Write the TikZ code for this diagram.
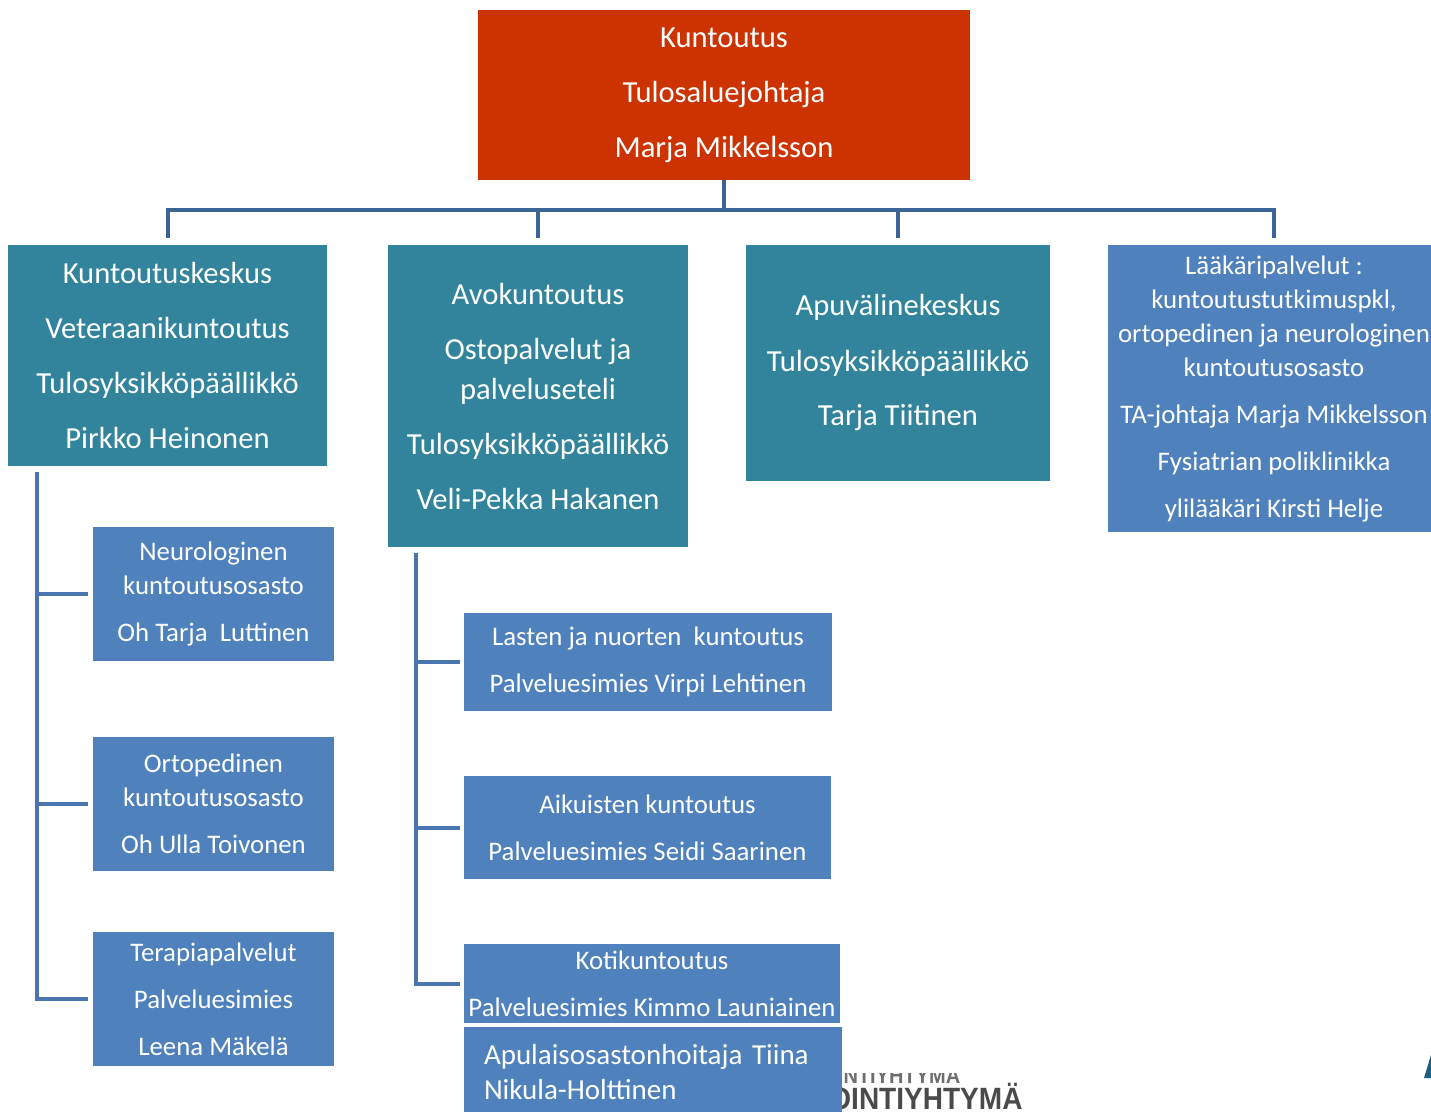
\documentclass[tikz,border=0pt]{standalone}
\usepackage{fontspec}
\setmainfont{Carlito}
\newfontfamily\logofont[FakeStretch=0.91]{Liberation Sans}
\usepackage{xcolor}
\usepackage{tikz}

\definecolor{bossred}{HTML}{CC3300}
\definecolor{unitteal}{HTML}{31849B}
\definecolor{teamblue}{HTML}{4F81BD}
\definecolor{busblue}{HTML}{3C6597}
\definecolor{linkblue}{HTML}{4A75B0}
\definecolor{logogray}{HTML}{4A4A4A}
\definecolor{logoteal}{HTML}{1B5E7E}

\begin{document}
\begin{tikzpicture}[
  x=0.5pt, y=-0.5pt,
  box/.style={inner sep=0pt, align=center, text=white},
  boss/.style={box, fill=bossred, font=\fontsize{15.3}{27.5}\selectfont},
  unit/.style={box, fill=unitteal, font=\fontsize{15.3}{27.5}\selectfont},
  team/.style={box, fill=teamblue, font=\fontsize{13.4}{17}\selectfont},
  bus/.style={draw=busblue, line width=2pt},
  link/.style={draw=linkblue, line width=2pt}
]
\useasboundingbox (0,0) rectangle (1431,1112);
\clip (0,0) rectangle (1431,1112);

% head of the unit
\node[boss, minimum width=246pt, minimum height=85pt] (boss) at (724,95)
  {Kuntoutus\\Tulosaluejohtaja\\Marja Mikkelsson};

% first level
\node[unit, minimum width=159.5pt, minimum height=110.5pt] (kk) at (167.5,355.5)
  {Kuntoutuskeskus\\Veteraanikuntoutus\\Tulosyksikköpäällikkö\\Pirkko Heinonen};
\node[unit, minimum width=150pt, minimum height=151pt] (avo) at (538,396)
  {Avokuntoutus\\Ostopalvelut ja\\[-7.5pt]palveluseteli\\Tulosyksikköpäällikkö\\Veli-Pekka Hakanen};
\node[unit, minimum width=152pt, minimum height=118pt] (apu) at (898,363)
  {Apuvälinekeskus\\Tulosyksikköpäällikkö\\Tarja Tiitinen};
\node[team, minimum width=166pt, minimum height=143.5pt] (laak) at (1274,388.5)
  {Lääkäripalvelut :\\kuntoutustutkimuspkl,\\ortopedinen ja neurologinen\\kuntoutusosasto\\[6.5pt]TA-johtaja Marja Mikkelsson\\[6.5pt]Fysiatrian poliklinikka\\[6.5pt]ylilääkäri Kirsti Helje};

% under Kuntoutuskeskus
\node[team, minimum width=120.5pt, minimum height=67pt] (neuro) at (213.5,594)
  {Neurologinen\\kuntoutusosasto\\[6.5pt]Oh Tarja\ \ Luttinen};
\node[team, minimum width=120.5pt, minimum height=67pt] (orto) at (213.5,804)
  {Ortopedinen\\kuntoutusosasto\\[6.5pt]Oh Ulla Toivonen};
\node[team, minimum width=120.5pt, minimum height=67pt] (tera) at (213.5,999)
  {Terapiapalvelut\\[6.5pt]Palveluesimies\\[6.5pt]Leena Mäkelä};

% logo behind the last box
\node[anchor=base west, text=logogray, inner sep=0pt,
  font=\logofont\bfseries\fontsize{15.4}{16}\selectfont] (logo) at (829,1109) {OINTIYHTYMÄ};
\begin{scope}
  \clip (842,1073) rectangle (1000,1085);
  \node[anchor=base west, text=logogray!80, inner sep=0pt,
    font=\logofont\bfseries\fontsize{11}{12}\selectfont] (logoup) at (822,1083) {OINTIYHTYMÄ};
\end{scope}
\fill[logoteal] (1424,1078) -- (1431,1055) -- (1431,1078) -- cycle;

% under Avokuntoutus
\node[team, minimum width=184pt, minimum height=49pt] (lapset) at (648,662)
  {Lasten ja nuorten\ \ kuntoutus\\[6.5pt]Palveluesimies Virpi Lehtinen};
\node[team, minimum width=183.5pt, minimum height=51.5pt] (aikuiset) at (647.5,827.5)
  {Aikuisten kuntoutus\\[6.5pt]Palveluesimies Seidi Saarinen};
\node[team, minimum width=188pt, minimum height=39.5pt] (koti) at (652,983.5)
  {Kotikuntoutus\\[6.5pt]Palveluesimies Kimmo Launiainen};
\node[team, align=left, inner xsep=10pt, text width=169pt, minimum height=45.5pt,
  font=\fontsize{14.5}{17.5}\selectfont] (apulais) at (653,1072.5)
  {Apulaisosastonhoitaja Tiina\\Nikula-Holttinen};

% connectors
\coordinate (hub) at (724,210);
\draw[bus] (boss.south) -- (hub);
\draw[bus] ([yshift=3.5pt]kk.north) |- (hub) -| ([yshift=3.5pt]laak.north);
\draw[bus] ([yshift=3.5pt]avo.north) -- (avo.north |- hub);
\draw[bus] ([yshift=3.5pt]apu.north) -- (apu.north |- hub);

\coordinate (kkspine) at ([xshift=14.5pt, yshift=-3pt]kk.south west);
\draw[link] (kkspine) |- ([xshift=-2.5pt]tera.west);
\foreach \t in {neuro, orto}
  \draw[link] (kkspine |- \t.west) -- ([xshift=-2.5pt]\t.west);

\coordinate (avospine) at ([xshift=14pt, yshift=-3pt]avo.south west);
\draw[link] (avospine) |- ([xshift=-2pt]koti.west);
\foreach \t in {lapset, aikuiset}
  \draw[link] (avospine |- \t.west) -- ([xshift=-2pt]\t.west);
\end{tikzpicture}
\end{document}
